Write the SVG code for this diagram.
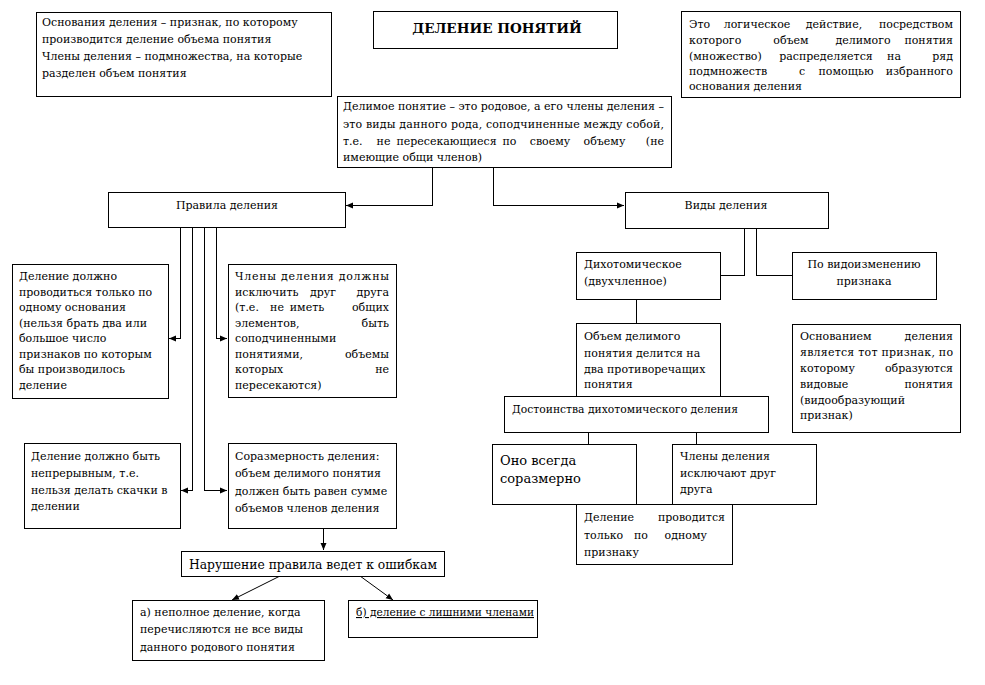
<svg xmlns="http://www.w3.org/2000/svg" width="985" height="685" viewBox="0 0 985 685">
<defs>
<style>
.b{fill:#fff;stroke:#000;stroke-width:1;shape-rendering:crispEdges}
.t{font-family:'DejaVu Serif','Liberation Serif',serif;font-size:11px;fill:#000}
.e{text-anchor:end}
.m{text-anchor:middle}
.c{fill:none;stroke:#000;stroke-width:1}
.cr{shape-rendering:crispEdges}
</style>
<marker id="ah" markerUnits="userSpaceOnUse" markerWidth="8" markerHeight="7" refX="7" refY="3.5" orient="auto">
<path d="M0,0.5 L7,3.5 L0,6.5 z" fill="#000"/>
</marker>
</defs>
<rect width="985" height="685" fill="#fff"/>
<g id="connectors">
<polyline class="c cr" points="432.5,167 432.5,205.5 346,205.5" marker-end="url(#ah)"/>
<polyline class="c cr" points="493.5,167 493.5,205.5 624,205.5" marker-end="url(#ah)"/>
<polyline class="c cr" points="180.5,227 180.5,338.5 169,338.5" marker-end="url(#ah)"/>
<polyline class="c cr" points="216.5,227 216.5,338.5 227,338.5" marker-end="url(#ah)"/>
<polyline class="c cr" points="192.5,227 192.5,490.5 181,490.5" marker-end="url(#ah)"/>
<polyline class="c cr" points="204.5,227 204.5,490.5 227,490.5" marker-end="url(#ah)"/>
<polyline class="c cr" points="323.5,528 323.5,550" marker-end="url(#ah)"/>
<line class="c" x1="280" y1="576" x2="232" y2="600" marker-end="url(#ah)"/>
<line class="c" x1="360" y1="576" x2="393" y2="600" marker-end="url(#ah)"/>
<polyline class="c cr" points="744.5,228 744.5,275.5 720,275.5"/>
<polyline class="c cr" points="756.5,228 756.5,275.5 792,275.5"/>
<line class="c cr" x1="636.5" y1="299" x2="636.5" y2="323"/>
<line class="c cr" x1="588.5" y1="432" x2="588.5" y2="444"/>
<line class="c cr" x1="696.5" y1="432" x2="696.5" y2="444"/>
</g>

<g id="n-basis">
<rect class="b" x="36.5" y="12.5" width="295" height="84"/>
<text class="t" x="42" y="26">Основания деления – признак, по которому</text>
<text class="t" x="42" y="43">производится деление объема понятия</text>
<text class="t" x="42" y="60">Члены деления – подмножества, на которые</text>
<text class="t" x="42" y="77">разделен объем понятия</text>
</g>

<g id="n-title">
<rect class="b" x="373.5" y="11.5" width="244" height="37"/>
<text class="t m" x="497" y="33" style="font-size:13.5px;font-weight:bold">ДЕЛЕНИЕ ПОНЯТИЙ</text>
</g>

<g id="n-definition">
<rect class="b" x="681.5" y="11.5" width="279" height="86"/>
<text class="t" x="689" y="28">Это</text><text class="t m" x="757" y="28">логическое</text><text class="t m" x="834" y="28">действие,</text><text class="t e" x="953" y="28">посредством</text>
<text class="t" x="689" y="44">которого</text><text class="t m" x="791" y="44">объем</text><text class="t m" x="863" y="44">делимого</text><text class="t e" x="953" y="44">понятия</text>
<text class="t" x="689" y="60">(множество)</text><text class="t m" x="826" y="60">распределяется</text><text class="t m" x="894" y="60">на</text><text class="t e" x="953" y="60">ряд</text>
<text class="t" x="689" y="75">подмножеств</text><text class="t m" x="802" y="75">с</text><text class="t m" x="846" y="75">помощью</text><text class="t e" x="953" y="75">избранного</text>
<text class="t" x="689" y="90">основания деления</text>
</g>

<g id="n-divisible">
<rect class="b" x="337.5" y="96.5" width="334" height="71"/>
<text class="t" x="343" y="110" textLength="321" lengthAdjust="spacing">Делимое понятие – это родовое, а его члены деления –</text>
<text class="t" x="343" y="128" textLength="321" lengthAdjust="spacing">это виды данного рода, соподчиненные между собой,</text>
<text class="t" x="343" y="145">т.е.</text><text class="t m" x="383.5" y="145">не</text><text class="t m" x="446.5" y="145">пересекающиеся</text><text class="t m" x="509.5" y="145">по</text><text class="t m" x="550" y="145">своему</text><text class="t m" x="604.5" y="145">объему</text><text class="t e" x="664" y="145">(не</text>
<text class="t" x="343" y="161">имеющие общи членов)</text>
</g>

<g id="n-rules">
<rect class="b" x="108.5" y="192.5" width="237" height="35"/>
<text class="t m" x="227" y="209">Правила деления</text>
</g>

<g id="n-kinds">
<rect class="b" x="625.5" y="192.5" width="203" height="36"/>
<text class="t m" x="726" y="209">Виды деления</text>
</g>

<g id="n-rule1">
<rect class="b" x="12.5" y="264.5" width="156" height="134"/>
<text class="t" x="19" y="280">Деление должно</text>
<text class="t" x="19" y="295.5">проводиться только по</text>
<text class="t" x="19" y="311">одному основания</text>
<text class="t" x="19" y="326.5">(нельзя брать два или</text>
<text class="t" x="19" y="342">большое число</text>
<text class="t" x="19" y="357.5">признаков по которым</text>
<text class="t" x="19" y="373">бы производилось</text>
<text class="t" x="19" y="388.5">деление</text>
</g>

<g id="n-rule2">
<rect class="b" x="228.5" y="264.5" width="168" height="133"/>
<text class="t" x="235" y="280" textLength="154" lengthAdjust="spacing">Члены деления должны</text>
<text class="t" x="235" y="295.5">исключить</text><text class="t m" x="323" y="295.5">друг</text><text class="t e" x="389" y="295.5">друга</text>
<text class="t" x="235" y="311">(т.е.</text><text class="t m" x="277" y="311">не</text><text class="t m" x="307" y="311">иметь</text><text class="t e" x="389" y="311">общих</text>
<text class="t" x="235" y="326.5">элементов,</text><text class="t e" x="389" y="326.5">быть</text>
<text class="t" x="235" y="342">соподчиненными</text>
<text class="t" x="235" y="357.5">понятиями,</text><text class="t e" x="389" y="357.5">объемы</text>
<text class="t" x="235" y="373">которых</text><text class="t e" x="389" y="373">не</text>
<text class="t" x="235" y="388.5">пересекаются)</text>
</g>

<g id="n-rule3">
<rect class="b" x="24.5" y="443.5" width="156" height="85"/>
<text class="t" x="31" y="460">Деление должно быть</text>
<text class="t" x="31" y="477">непрерывным, т.е.</text>
<text class="t" x="31" y="494">нельзя делать скачки в</text>
<text class="t" x="31" y="510">делении</text>
</g>

<g id="n-rule4">
<rect class="b" x="228.5" y="443.5" width="168" height="85"/>
<text class="t" x="235" y="460">Соразмерность деления:</text>
<text class="t" x="235" y="477">объем делимого понятия</text>
<text class="t" x="235" y="495">должен быть равен сумме</text>
<text class="t" x="235" y="512">объемов членов деления</text>
</g>

<g id="n-violation">
<rect class="b" x="181.5" y="551.5" width="263" height="25"/>
<text class="t" x="189" y="569" style="font-size:13px" textLength="248" lengthAdjust="spacingAndGlyphs">Нарушение правила ведет к ошибкам</text>
</g>

<g id="n-err-a">
<rect class="b" x="132.5" y="600.5" width="192" height="60"/>
<text class="t" x="140" y="616">а) неполное деление, когда</text>
<text class="t" x="140" y="633">перечисляются не все виды</text>
<text class="t" x="140" y="651">данного родового понятия</text>
</g>

<g id="n-err-b">
<rect class="b" x="348.5" y="600.5" width="189" height="37"/>
<text class="t" x="356" y="616" text-decoration="underline" textLength="178" lengthAdjust="spacingAndGlyphs">б) деление с лишними членами</text>
</g>

<g id="n-dichotomy">
<rect class="b" x="576.5" y="252.5" width="144" height="47"/>
<text class="t" x="584" y="268">Дихотомическое</text>
<text class="t" x="584" y="285">(двухчленное)</text>
</g>

<g id="n-modification">
<rect class="b" x="792.5" y="252.5" width="144" height="47"/>
<text class="t m" x="864" y="268">По видоизменению</text>
<text class="t m" x="864" y="285">признака</text>
</g>

<g id="n-volume">
<rect class="b" x="576.5" y="323.5" width="144" height="74"/>
<text class="t" x="584" y="340">Объем делимого</text>
<text class="t" x="584" y="357">понятия делится на</text>
<text class="t" x="584" y="373">два противоречащих</text>
<text class="t" x="584" y="388">понятия</text>
</g>

<g id="n-merits">
<rect class="b" x="504.5" y="396.5" width="264" height="36"/>
<text class="t" x="512" y="413" textLength="226" lengthAdjust="spacingAndGlyphs">Достоинства дихотомического деления</text>
</g>

<g id="n-basis2">
<rect class="b" x="792.5" y="324.5" width="168" height="108"/>
<text class="t" x="800" y="340">Основанием</text><text class="t e" x="953" y="340">деления</text>
<text class="t" x="800" y="356" textLength="153" lengthAdjust="spacing">является тот признак, по</text>
<text class="t" x="800" y="372">которому</text><text class="t e" x="953" y="372">образуются</text>
<text class="t" x="800" y="388">видовые</text><text class="t e" x="953" y="388">понятия</text>
<text class="t" x="800" y="404">(видообразующий</text>
<text class="t" x="800" y="419">признак)</text>
</g>

<g id="n-proportional">
<rect class="b" x="492.5" y="444.5" width="144" height="60"/>
<text class="t" x="500" y="465" style="font-size:13px">Оно всегда</text>
<text class="t" x="500" y="483" style="font-size:13px">соразмерно</text>
</g>

<g id="n-exclusive">
<rect class="b" x="672.5" y="444.5" width="144" height="60"/>
<text class="t" x="680" y="460">Члены деления</text>
<text class="t" x="680" y="477">исключают друг</text>
<text class="t" x="680" y="493">друга</text>
</g>

<g id="n-single">
<rect class="b" x="576.5" y="504.5" width="156" height="60"/>
<text class="t" x="584" y="521">Деление</text><text class="t e" x="725" y="521">проводится</text>
<text class="t" x="584" y="539">только</text><text class="t m" x="641" y="539">по</text><text class="t e" x="707" y="539">одному</text>
<text class="t" x="584" y="556">признаку</text>
</g>
</svg>
